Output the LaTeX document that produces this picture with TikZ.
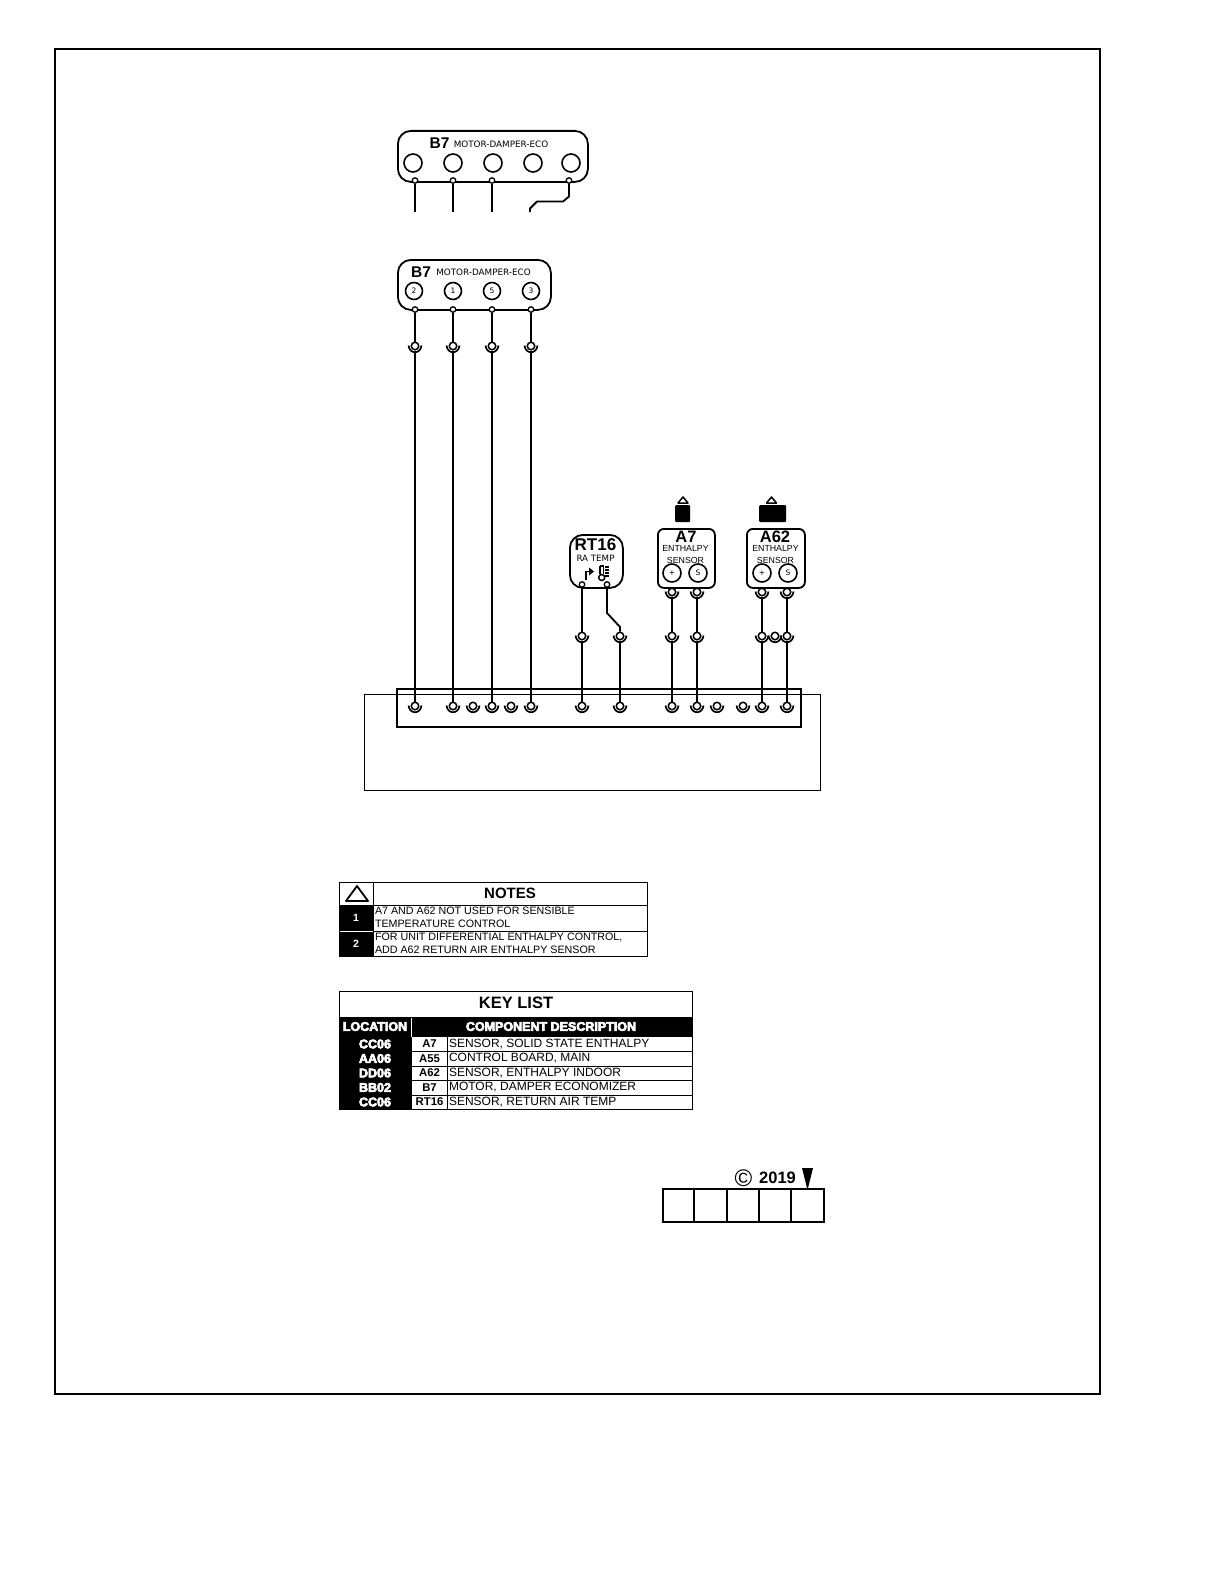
\documentclass[tikz,border=0pt]{standalone}
\usepackage{fontspec}
\setmainfont{Liberation Sans}
\newfontfamily\djv{DejaVu Sans}
\newfontface\fatface[FakeBold=5]{Liberation Sans Bold}
\usetikzlibrary{calc}
\tikzset{
  x=1pt,y=-1pt,
  wire/.style={draw=black,line width=1.8pt},
  thinbox/.style={draw=black,line width=1.1pt},
  devbox/.style={draw=black,line width=1.8pt,rounded corners=13pt},
  pin/.style={circle,draw=black,fill=white,line width=1.3pt,minimum size=5.5pt,inner sep=0pt},
  term/.style={circle,draw=black,fill=white,line width=1.5pt,minimum size=7.5pt,inner sep=0pt},
  port/.style={circle,draw=black,line width=1.6pt,inner sep=0pt},
  txt/.style={inner sep=0pt,outer sep=0pt,text=black},
  ltxt/.style={txt,anchor=west,font=\fontsize{10.7}{12}\selectfont},
  ctr/.style={txt,font=\bfseries\fontsize{11.3}{12}\selectfont},
  loc/.style={txt,text=white,font=\fatface\fontsize{12.5}{13}\selectfont},
}
\newcommand{\termat}[3]{%
  \node[term] (#1) at (#2,#3) {};
  \draw[line width=1.7pt] (#2-6.5,#3-0.5) .. controls (#2-5.5,#3+8.5) and (#2+5.5,#3+8.5) .. (#2+6.5,#3-0.5);
}
\begin{document}
\begin{tikzpicture}
\useasboundingbox (0,0) rectangle (1224,1584);
\fill[white] (0,0) rectangle (1224,1584);
\node[draw=black,line width=2.4pt,minimum width=1045pt,minimum height=1345pt,anchor=north west,inner sep=0pt] (frame) at (54,48) {};

% upper B7
\node[devbox,minimum width=190pt,minimum height=51pt,anchor=north west,inner sep=0pt] (bA) at (397,130) {};
\node[txt,font=\bfseries\fontsize{15.5}{16}\selectfont] (bAt) at (439.5,143.5) {B7};
\node[txt,font=\djv\fontsize{8.8}{10}\selectfont] (bAd) at (501,144) {MOTOR-DAMPER-ECO};
\foreach \n/\xx in {a/413,b/453,c/493,d/533,e/571}{
  \node[port,minimum size=18pt] (bAp\n) at (\xx,163) {};
}
\foreach \n/\xx in {a/415,b/453,c/492,e/569}{
  \node[pin] (bAq\n) at (\xx,180.5) {};
}
\coordinate (ea) at (415,212);
\coordinate (eb) at (453,212);
\coordinate (ec) at (492,212);
\coordinate (ee) at (530,212);
\draw[wire] (bAqa) -- (ea);
\draw[wire] (bAqb) -- (eb);
\draw[wire] (bAqc) -- (ec);
\draw[wire] (bAqe) -- ++(0,16) -- ++(-6,5) -- ++(-26,0) -- ++(-7,7) -- (ee);

% lower B7
\node[devbox,minimum width=153pt,minimum height=50pt,anchor=north west,inner sep=0pt] (bB) at (397,259) {};
\node[txt,font=\bfseries\fontsize{15.5}{16}\selectfont] (bBt) at (421,272) {B7};
\node[txt,font=\djv\fontsize{8.8}{10}\selectfont] (bBd) at (483.5,272.5) {MOTOR-DAMPER-ECO};
\foreach \n/\xx/\l in {a/414/2,b/453/1,c/492/5,d/531/3}{
  \node[port,minimum size=17pt,font=\djv\fontsize{7.5}{8}\selectfont] (bBp\n) at (\xx,291) {\l};
}
\foreach \n/\xx in {a/415,b/453,c/492,d/531}{
  \node[pin] (bBq\n) at (\xx,309.5) {};
}

% RT16
\node[devbox,minimum width=53pt,minimum height=53pt,anchor=north west,inner sep=0pt] (rt) at (569,534) {};
\node[txt,font=\bfseries\fontsize{17}{18}\selectfont] (rtt) at (595.5,545) {RT16};
\node[txt,font=\djv\fontsize{8.7}{9}\selectfont] (rtd) at (595.5,558) {RA TEMP};
\draw[line width=1.8pt] (586,580) -- (586,571.5) -- (590,571.5);
\fill (589,567.5) -- (594,571.5) -- (589,575.5) -- cycle;
\draw[line width=1.6pt] (600,566) -- (600,574);
\draw[line width=1.6pt] (603.5,566) -- (603.5,574);
\draw[line width=1.6pt] (600,566) -- (603.5,566);
\draw[line width=1.5pt] (601.7,577.5) circle[radius=3pt];
\foreach \yy in {567,570,573,576}{\draw[line width=1.3pt] (605,\yy) -- (609,\yy);}
\node[pin] (rpa) at (582,584.5) {};
\node[pin] (rpb) at (607,584.5) {};

% A7
\node[devbox,rounded corners=6pt,minimum width=57pt,minimum height=59pt,anchor=north west,inner sep=0pt] (aS) at (657,528) {};
\node[txt,font=\bfseries\fontsize{16.5}{17}\selectfont] (aSt) at (686,537) {A7};
\node[txt,font=\fontsize{8.8}{10}\selectfont] (aSd) at (685.5,548) {ENTHALPY};
\node[txt,font=\fontsize{8.8}{10}\selectfont] (aSe) at (685.5,560) {SENSOR};
\node[port,minimum size=18pt,font=\djv\fontsize{7.5}{8}\selectfont] (aSa) at (672,573) {+};
\node[port,minimum size=18pt,font=\djv\fontsize{7.5}{8}\selectfont] (aSb) at (698,573) {S};
\node[fill=black,rounded corners=1pt,minimum width=15pt,minimum height=17pt,anchor=north west,inner sep=0pt] (aSk) at (675,505) {};
\draw[line width=1.5pt,fill=white,line join=round] (683,497) -- (688,503) -- (678,503) -- cycle;

% A62
\node[devbox,rounded corners=6pt,minimum width=58pt,minimum height=59pt,anchor=north west,inner sep=0pt] (gS) at (746,528) {};
\node[txt,font=\bfseries\fontsize{16.5}{17}\selectfont] (gSt) at (775,537) {A62};
\node[txt,font=\fontsize{8.8}{10}\selectfont] (gSd) at (775.5,548) {ENTHALPY};
\node[txt,font=\fontsize{8.8}{10}\selectfont] (gSe) at (775.5,560) {SENSOR};
\node[port,minimum size=18pt,font=\djv\fontsize{7.5}{8}\selectfont] (gSa) at (762,573) {+};
\node[port,minimum size=18pt,font=\djv\fontsize{7.5}{8}\selectfont] (gSb) at (788,573) {S};
\node[fill=black,rounded corners=1pt,minimum width=27pt,minimum height=17pt,anchor=north west,inner sep=0pt] (gSk) at (759,505) {};
\draw[line width=1.5pt,fill=white,line join=round] (771.5,497) -- (776.5,503) -- (766.5,503) -- cycle;

% control board
\node[draw=black,line width=1.1pt,minimum width=456pt,minimum height=96pt,anchor=north west,inner sep=0pt] (board) at (364,694) {};
\node[draw=black,line width=1.8pt,minimum width=404pt,minimum height=38pt,anchor=north west,inner sep=0pt] (strip) at (396,688) {};

\foreach \n/\xx in {a/415,b/453,c/473,d/492,e/511,f/531,g/582,h/620,i/672,j/697,k/717,l/743,m/762,n/787}{
  \termat{z\n}{\xx}{706}
}
\foreach \n/\xx in {a/415,b/453,c/492,d/531}{\termat{u\n}{\xx}{346}}
\foreach \n/\xx in {g/582,h/620,i/672,j/697,m/762,o/775,n/787}{\termat{v\n}{\xx}{636}}
\foreach \n/\xx in {i/672,j/697,m/762,n/787}{\termat{w\n}{\xx}{592}}

\draw[wire] (bBqa) -- (ua);
\draw[wire] (bBqb) -- (ub);
\draw[wire] (bBqc) -- (uc);
\draw[wire] (bBqd) -- (ud);
\draw[wire] (ua) -- (za);
\draw[wire] (ub) -- (zb);
\draw[wire] (uc) -- (zd);
\draw[wire] (ud) -- (zf);
\draw[wire] (rpa) -- (vg);
\draw[wire] (rpb) -- ++(0,28.5) -- ++(13,14) -- (vh);
\draw[wire] (vg) -- (zg);
\draw[wire] (vh) -- (zh);
\draw[wire] (wi) -- (vi);
\draw[wire] (wj) -- (vj);
\draw[wire] (wm) -- (vm);
\draw[wire] (wn) -- (vn);
\draw[wire] (vi) -- (zi);
\draw[wire] (vj) -- (zj);
\draw[wire] (vm) -- (zm);
\draw[wire] (vn) -- (zn);

% notes
\fill[black] (339,905) rectangle (373,956);
\draw[white,line width=.8pt] (339,931) -- (373,931);
\node[thinbox,minimum width=308pt,minimum height=74pt,anchor=north west,inner sep=0pt] (notes) at (339,882) {};
\draw[line width=.9pt] (373,882) -- (373,956) (339,905) -- (647,905) (373,931) -- (647,931);
\draw[line width=1.8pt,line join=round] (357,886) -- (368,901) -- (346,901) -- cycle;
\node[txt,font=\bfseries\fontsize{15}{16}\selectfont] (notesh) at (510,893.5) {NOTES};
\node[txt,text=white,font=\bfseries\fontsize{10.5}{12}\selectfont] (n1) at (356,917.5) {1};
\node[txt,text=white,font=\bfseries\fontsize{10.5}{12}\selectfont] (n2) at (356,943.5) {2};
\node[ltxt] (n1a) at (375,911) {A7 AND A62 NOT USED FOR SENSIBLE};
\node[ltxt] (n1b) at (375,924) {TEMPERATURE CONTROL};
\node[ltxt] (n2a) at (375,937) {FOR UNIT DIFFERENTIAL ENTHALPY CONTROL,};
\node[ltxt] (n2b) at (375,950) {ADD A62 RETURN AIR ENTHALPY SENSOR};

% key list
\fill[black] (339,1017) rectangle (692,1037);
\fill[black] (339,1037) rectangle (411,1109);
\node[thinbox,minimum width=353pt,minimum height=118pt,anchor=north west,inner sep=0pt] (key) at (339,991) {};
\draw[white,line width=.8pt] (411.5,1018) -- (411.5,1037);
\draw[line width=.9pt] (411,1037) -- (411,1109) (447,1037) -- (447,1109);
\foreach \yy in {1051.5,1066,1080.5,1095}{\draw[line width=.9pt] (411,\yy) -- (692,\yy);}
\node[txt,font=\bfseries\fontsize{16.5}{17}\selectfont] (keyh) at (516,1003) {KEY LIST};
\node[loc] (keyl) at (375,1026.5) {LOCATION};
\node[loc] (keyc) at (551,1026.5) {COMPONENT DESCRIPTION};
\foreach \n/\yy/\lc/\cc/\dd in {
  a/1044/CC06/A7/{SENSOR, SOLID STATE ENTHALPY},
  b/1058.5/AA06/A55/{CONTROL BOARD, MAIN},
  c/1073/DD06/A62/{SENSOR, ENTHALPY INDOOR},
  d/1087.5/BB02/B7/{MOTOR, DAMPER ECONOMIZER},
  e/1102/CC06/RT16/{SENSOR, RETURN AIR TEMP}}{
  \node[loc] (kl\n) at (375,\yy) {\lc};
  \node[ctr] (kc\n) at (429.5,\yy) {\cc};
  \node[ltxt,font=\fontsize{12}{13}\selectfont] (kd\n) at (449,\yy) {\dd};
}

% title block
\node[draw=black,line width=1.8pt,minimum width=161pt,minimum height=33pt,anchor=north west,inner sep=0pt] (tb) at (662,1188) {};
\foreach \xx in {694,727,759,791}{\draw[line width=1.8pt] (\xx,1188) -- (\xx,1221);}
\node[txt,font=\fontsize{24}{25}\selectfont] (cp) at (743.5,1178) {\textcopyright};
\node[txt,font=\bfseries\fontsize{16.5}{17}\selectfont] (yr) at (777.5,1178) {2019};
\fill[black] (802,1168) -- (813,1168) -- (807.5,1190) -- cycle;
\end{tikzpicture}
\end{document}
